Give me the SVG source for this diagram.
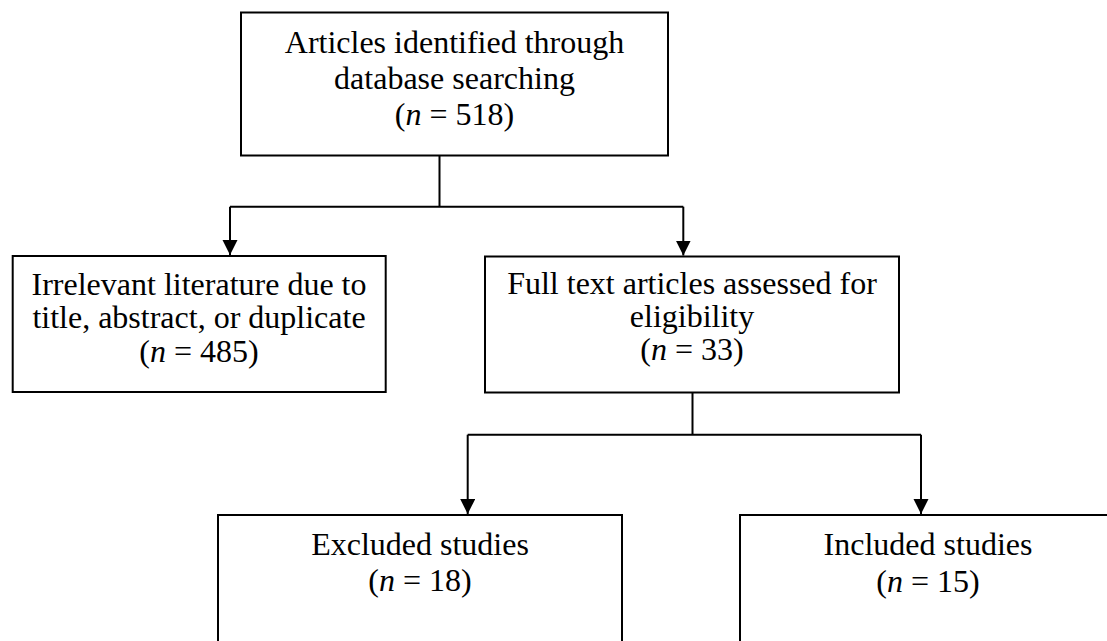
<svg xmlns="http://www.w3.org/2000/svg" width="1107" height="641" viewBox="0 0 1107 641">
<style>
.box{fill:#fff;stroke:#000;stroke-width:2}
.t{font-family:"Liberation Serif","Times New Roman",serif;font-size:32px;fill:#000;text-anchor:middle}
.c{fill:none;stroke:#000;stroke-width:2}
</style>
<defs>
<marker id="ah" markerUnits="userSpaceOnUse" markerWidth="16" markerHeight="17" refX="15" refY="7.5" orient="auto">
<path d="M0,0 L15,7.5 L0,15 Z" fill="#000"/>
</marker>
</defs>
<rect width="1107" height="641" fill="#fff"/>
<g id="connectors">
<path class="c" d="M439.5,155 V206.7 M230,206.7 H683.3"/>
<path class="c" d="M230,206.7 V255" marker-end="url(#ah)"/>
<path class="c" d="M683.3,206.7 V255.5" marker-end="url(#ah)"/>
<path class="c" d="M692.5,392.5 V434.7 M467.7,434.7 H921"/>
<path class="c" d="M467.7,434.7 V514" marker-end="url(#ah)"/>
<path class="c" d="M921,434.7 V514" marker-end="url(#ah)"/>
</g>
<g id="n1">
<rect class="box" x="241" y="12.5" width="427" height="143"/>
<text class="t" x="454.5" y="52.5">Articles identified through</text>
<text class="t" x="454.5" y="88.5">database searching</text>
<text class="t" x="454.5" y="124.5">(<tspan font-style="italic">n</tspan> = 518)</text>
</g>
<g id="n2">
<rect class="box" x="12.7" y="256" width="373" height="136"/>
<text class="t" x="199" y="294.5">Irrelevant literature due to</text>
<text class="t" x="199" y="327.5">title, abstract, or duplicate</text>
<text class="t" x="199" y="361.5">(<tspan font-style="italic">n</tspan> = 485)</text>
</g>
<g id="n3">
<rect class="box" x="485" y="256.5" width="414" height="136"/>
<text class="t" x="692" y="293.5">Full text articles assessed for</text>
<text class="t" x="692" y="326.5">eligibility</text>
<text class="t" x="692" y="360">(<tspan font-style="italic">n</tspan> = 33)</text>
</g>
<g id="n4">
<rect class="box" x="218" y="515" width="404" height="150"/>
<text class="t" x="420" y="555">Excluded studies</text>
<text class="t" x="420" y="591">(<tspan font-style="italic">n</tspan> = 18)</text>
</g>
<g id="n5">
<rect class="box" x="740" y="515" width="376" height="150"/>
<text class="t" x="928" y="555">Included studies</text>
<text class="t" x="928" y="591.5">(<tspan font-style="italic">n</tspan> = 15)</text>
</g>
</svg>
